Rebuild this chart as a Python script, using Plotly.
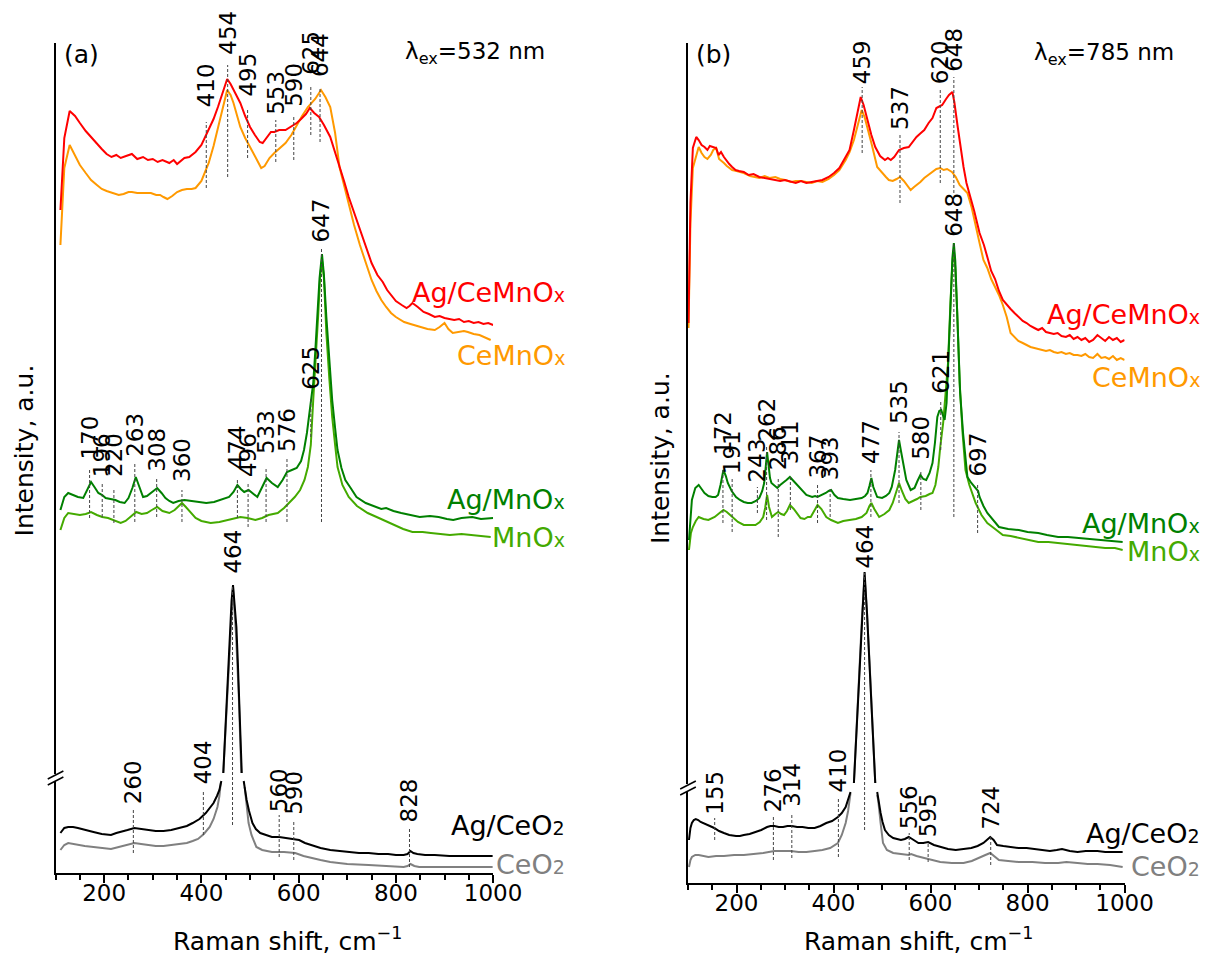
import plotly.graph_objects as go

W, H = 1232, 959
FONT = "DejaVu Sans, Verdana, sans-serif"

# ---------------- Panel (a): lambda_ex = 532 nm ----------------
a_agcemn_x = [110,118,129,140,150,162,173,185,195,205,215,225,234,245,257,268,280,290,300,310,320,334,343,350,358,365,375,388,400,415,425,434,444,453,460,467,480,490,500,510,520,526,535,543,550,560,573,585,596,605,615,623,632,642,652,665,675,684,694,703,714,726,738,750,762,773,782,790,800,812,822,828,834,845,857,868,880,890,900,910,920,930,940,950,960,970,980,990,1000]
a_agcemn_y = [663,735,762,757,750,742,736,729,724,719,716,718,715,717,719,714,716,713,714,711,713,710,713,709,712,715,716,721,728,743,754,766,780,794,789,782,770,757,746,738,731,730,736,741,741,743,743,747,750,754,759,765,760,756,748,736,721,706,691,676,660,643,626,610,598,591,583,578,572,568,565,567,570,566,561,559,556,557,555,554,553,554,551,552,550,551,549,550,548]

a_cemn_x = [110,118,129,140,150,162,173,185,195,205,219,230,240,250,257,268,280,296,307,315,322,330,340,350,360,370,380,388,400,415,425,434,444,453,460,466,480,490,500,512,523,530,540,550,560,573,585,596,607,619,627,634,646,655,665,675,684,694,703,714,726,738,750,760,770,780,790,800,817,830,850,865,880,890,900,908,917,930,940,948,960,972,985,995]
a_cemn_y = [628,705,728,718,708,700,693,688,684,682,680,678,679,681,681,680,680,680,678,678,676,674,677,681,683,684,684,685,692,710,727,746,766,783,778,770,746,735,726,715,705,707,715,720,724,730,738,748,757,766,770,774,783,776,766,740,706,686,668,648,628,610,593,582,573,566,560,556,551,549,546,544,543,546,550,544,540,541,542,541,539,538,535,533]

a_agmn_x = [110,118,126,135,146,157,165,173,180,188,196,203,213,223,232,242,250,258,265,272,280,288,296,302,309,318,326,334,342,353,365,380,396,410,426,440,457,466,474,481,488,497,506,515,524,534,545,557,567,576,586,596,605,611,617,622,626,630,634,638,643,648,652,657,663,669,675,680,688,696,707,719,738,757,770,780,795,811,830,849,870,888,905,918,935,957,975,990,1000]
a_agmn_y = [363,376,380,378,376,375,383,391,386,380,378,375,374,373,371,370,375,385,396,386,376,377,380,383,385,380,375,372,370,372,373,372,371,370,371,373,376,381,388,384,381,383,379,376,385,395,390,386,393,401,403,405,412,423,440,460,475,490,520,556,595,619,598,556,510,473,445,423,405,393,385,376,370,366,364,365,362,360,358,356,357,356,354,353,355,356,354,355,355]

a_mn_x = [110,118,126,138,150,162,173,185,196,208,219,227,234,244,253,260,266,277,288,298,309,320,334,345,353,360,368,378,388,400,419,437,457,470,480,495,511,525,538,557,570,580,592,603,612,619,625,630,635,640,644,648,652,657,663,669,675,680,690,703,720,742,765,795,815,834,855,872,890,911,935,957,975,995]
a_mn_y = [343,355,360,359,358,359,361,358,356,355,353,351,350,352,356,359,361,359,360,363,366,362,360,363,367,370,366,360,355,352,350,351,353,355,356,355,353,355,358,360,365,370,376,383,393,406,428,473,510,556,595,613,595,540,495,456,428,406,388,376,367,360,355,348,344,341,341,340,339,338,339,338,337,336]

a_agce_x = [110,118,126,136,146,160,178,195,214,225,234,248,262,276,290,306,322,338,354,370,382,396,409,418,425,432,437,441,None,445,449,453,456,459,462,465,468,472,475,477,480,483,None,487,490,493,498,505,512,521,533,545,560,577,590,601,613,625,645,665,685,704,724,744,764,784,800,816,824,830,836,844,860,880,910,943,970,999]
a_agce_y = [40,45,46,46,45,43,41,39,38,40,41,43,45,44,43,42,42,43,45,47,50,54,60,65,70,77,83,92,None,100,140,180,215,246,272,288,272,246,210,180,140,100,None,92,82,73,62,50,44,40,38,36,36,35,34,33,30,28,25,23,22,21,20,20,19,19,18,18,19,22,20,19,18,18,17,17,17,17]

a_ce_x = [110,118,126,136,146,160,178,195,214,230,248,262,276,290,306,322,338,354,370,382,393,405,417,425,433,437,440,None,445,453,459,465,471,477,482,None,489,493,497,503,513,525,545,570,593,610,625,645,665,700,744,780,816,824,830,838,848,880,920,960,999]
a_ce_y = [23,28,30,29,28,27,26,25,24,26,28,30,29,28,27,27,28,29,30,32,34,39,46,54,66,77,91,None,100,175,240,285,240,175,100,None,86,70,50,38,26,23,21,21,20,17,15,13,11,9,8,7,6,7,9,7,6,6,6,6,6]

# ---------------- Panel (b): lambda_ex = 785 nm ----------------
b_agcemn_x = [101,105,110,117,122,128,134,140,145,150,158,163,168,174,180,185,191,198,205,215,225,235,247,258,268,280,290,300,312,322,333,344,355,366,377,390,401,412,425,433,442,450,456,462,470,478,486,496,506,512,518,525,535,545,555,563,571,580,587,596,604,612,620,624,632,638,645,649,656,662,668,674,680,690,701,710,717,725,733,741,749,757,765,773,782,790,798,806,814,822,830,838,846,854,862,870,879,887,895,903,911,919,927,935,944,952,960,968,976,984,992,1000]
b_agcemn_y = [560,680,735,746,743,738,736,733,737,736,735,728,731,726,722,719,716,713,712,711,708,709,706,705,704,703,702,703,701,700,702,700,701,702,703,706,710,715,726,733,753,770,786,778,763,748,736,727,723,725,723,726,733,735,736,741,746,750,753,760,765,775,777,778,784,788,791,781,756,735,716,700,690,672,650,638,626,612,604,592,583,578,574,570,566,562,560,557,555,553,555,551,550,549,550,547,546,548,544,546,543,545,541,543,548,545,542,546,543,545,541,543]

b_cemn_x = [101,105,110,117,122,128,134,140,147,152,158,164,170,174,180,185,191,200,215,228,238,247,258,268,280,290,300,312,322,333,344,355,366,377,390,401,412,425,433,442,450,458,464,470,478,490,500,508,514,522,530,537,545,552,559,566,572,579,587,595,603,612,620,627,634,644,652,660,668,676,685,693,701,709,717,725,733,741,749,757,765,773,781,790,798,806,814,822,830,838,846,854,862,870,879,887,895,903,911,919,927,935,944,952,960,968,976,984,992,1000]
b_cemn_y = [555,660,715,728,736,730,726,724,728,733,735,724,722,720,717,715,713,712,710,707,706,705,707,705,706,704,703,701,702,702,701,700,702,701,704,708,713,723,731,743,758,773,766,756,740,716,710,706,703,702,704,706,702,698,693,696,698,701,705,708,711,714,715,713,714,711,706,698,694,690,675,656,640,623,615,604,596,588,578,566,550,546,542,540,538,536,535,534,533,532,533,531,530,531,529,530,528,528,527,529,526,525,529,525,526,524,527,523,525,523]

b_agmn_x = [102,105,108,115,122,128,134,142,150,157,162,167,173,178,182,190,199,207,215,223,231,240,247,253,257,260,263,266,269,272,278,284,290,296,303,310,318,328,336,344,356,362,367,372,377,384,390,395,402,409,420,434,446,458,465,470,474,478,482,490,500,508,515,520,527,531,535,539,543,550,559,567,573,579,585,591,598,604,609,614,618,622,626,629,633,637,641,645,648,651,656,661,667,672,676,684,693,698,701,709,717,729,741,760,782,800,822,840,863,883,903,925,944,970,996]
b_agmn_y = [343,370,383,395,398,394,390,387,386,386,388,398,413,407,400,392,386,383,381,380,380,382,385,392,400,415,431,418,405,400,397,395,398,400,403,406,402,396,392,388,386,387,386,387,388,390,392,393,388,385,384,383,384,385,387,390,397,405,396,386,385,387,390,396,413,430,443,432,420,403,393,395,402,408,404,403,410,420,440,466,472,473,467,463,480,520,575,625,640,622,560,490,450,425,406,400,395,392,386,377,370,363,356,354,353,351,350,348,346,346,345,344,343,342,341]

b_mn_x = [102,106,110,116,122,132,142,155,165,173,180,191,203,215,227,239,248,255,259,263,267,273,280,286,292,298,304,310,318,325,332,340,347,353,360,367,375,385,395,409,420,434,446,458,468,474,478,484,494,505,515,522,528,535,541,548,555,565,572,579,590,598,604,610,616,620,626,631,636,641,645,648,651,655,660,666,672,680,693,705,717,733,749,765,782,800,822,843,863,885,911,935,960,980,996]
b_mn_y = [333,350,356,362,366,364,363,366,370,373,371,366,361,358,358,358,361,366,375,388,376,366,369,371,369,368,372,378,374,369,365,364,366,366,372,378,374,366,363,360,362,363,364,366,370,377,380,374,366,369,373,380,390,400,392,384,380,382,384,386,387,389,390,398,416,436,460,490,520,580,620,633,615,570,500,450,413,398,380,368,360,354,348,347,345,343,341,341,340,339,338,337,335,335,333]

b_agce_x = [102,105,108,112,116,121,126,130,137,145,154,164,174,185,199,207,215,227,239,251,263,270,278,287,296,305,314,325,336,348,361,373,385,397,409,417,425,430,435,None,442,448,454,459,464,469,474,480,486,None,490,493,497,501,506,514,523,531,539,547,555,562,568,575,585,595,607,620,636,652,668,684,697,709,716,723,730,737,750,765,782,798,814,830,846,860,871,887,903,920,944,960,980,996]
b_agce_y = [43,55,60,63,64,63,61,60,59,57,55,52,50,48,47,47,48,49,51,53,56,57,57,56,56,57,57,56,56,55,55,57,60,62,66,70,76,83,91,None,100,160,223,270,311,270,223,160,100,None,91,80,70,61,53,48,45,44,43,44,46,44,42,40,40,41,38,36,34,33,34,35,37,40,43,46,43,38,37,36,35,35,34,33,32,33,34,32,31,32,32,31,31,31]

b_ce_x = [102,105,108,115,122,132,142,158,174,195,215,235,255,278,295,312,328,344,361,377,393,409,417,425,430,435,None,442,448,454,459,464,469,474,480,486,None,490,492,497,502,510,523,539,555,560,571,587,603,620,644,668,685,701,713,723,731,741,760,782,810,836,863,880,903,924,944,970,996]
b_ce_y = [16,23,26,28,28,27,26,27,27,28,28,29,30,32,32,32,31,31,32,33,35,40,48,60,72,90,None,100,160,223,270,305,270,223,160,100,None,88,83,60,40,33,30,29,28,29,27,25,23,21,20,20,22,25,28,30,27,23,22,21,21,20,20,21,20,19,19,18,16]

# peak labels: wavenumber, text-bottom intensity, dashed-line top, dashed-line bottom
peaks_a = [
    (410, 763, 751, 685), (454, 815, 808, 696), (495, 773, 763, 715), (553, 755, 753, 711),
    (590, 763, 756, 713), (625, 795, 788, 738), (644, 793, 785, 731),
    (170, 410, 405, 355), (196, 393, 390, 356), (220, 393, 385, 350), (263, 413, 410, 351),
    (308, 398, 395, 356), (360, 388, 383, 351), (474, 401, 393, 355), (496, 393, 390, 346),
    (533, 416, 405, 351), (576, 418, 415, 351), (625, 480, 476, 436), (647, 628, 626, 351),
    (464, 296, 286, 48),
    (260, 66, 65, 20), (404, 86, 83, 38), (560, 58, 58, 16), (590, 55, 51, 13), (828, 48, 46, 6),
]
peaks_b = [
    (459, 796, 796, 730), (537, 750, 750, 680), (620, 796, 793, 700), (648, 808, 806, 690),
    (172, 425, 413, 360), (191, 406, 406, 351), (243, 398, 396, 370), (262, 438, 436, 363),
    (286, 410, 406, 346), (311, 416, 406, 373), (367, 401, 400, 360), (393, 400, 396, 366),
    (477, 416, 413, 366), (535, 456, 451, 380), (580, 420, 413, 373), (621, 486, 483, 433),
    (648, 643, 640, 366), (697, 403, 400, 350),
    (464, 311, 310, 53),
    (155, 65, 65, 43), (276, 68, 66, 23), (314, 73, 70, 25), (410, 88, 86, 26),
    (556, 51, 50, 23), (595, 43, 41, 21), (724, 50, 48, 18),
]

C_RED, C_ORANGE = "#ff0000", "#ff9900"
C_DGREEN, C_LGREEN = "#008000", "#44aa00"
C_BLACK, C_GRAY = "#000000", "#808080"

# pixel geometry of the two plot areas
A_X0, A_X1, A_TOP, A_BOT = 56.9, 505.0, 43, 873
B_X0, B_X1, B_TOP, B_BOT = 704.6, 1151.7, 43, 883

def PX(x):
    return x / W

def PY(y):
    return 1 - y / H

fig = go.Figure()

series = [
    ("x", "y", a_cemn_x, a_cemn_y, C_ORANGE), ("x", "y", a_agcemn_x, a_agcemn_y, C_RED),
    ("x", "y", a_mn_x, a_mn_y, C_LGREEN), ("x", "y", a_agmn_x, a_agmn_y, C_DGREEN),
    ("x", "y", a_ce_x, a_ce_y, C_GRAY), ("x", "y", a_agce_x, a_agce_y, C_BLACK),
    ("x2", "y2", b_cemn_x, b_cemn_y, C_ORANGE), ("x2", "y2", b_agcemn_x, b_agcemn_y, C_RED),
    ("x2", "y2", b_mn_x, b_mn_y, C_LGREEN), ("x2", "y2", b_agmn_x, b_agmn_y, C_DGREEN),
    ("x2", "y2", b_ce_x, b_ce_y, C_GRAY), ("x2", "y2", b_agce_x, b_agce_y, C_BLACK),
]
for xa, ya, xs, ys, col in series:
    fig.add_trace(go.Scatter(x=xs, y=ys, xaxis=xa, yaxis=ya, mode="lines",
                             line=dict(color=col, width=2), connectgaps=False,
                             hoverinfo="skip", showlegend=False))

annotations = []
shapes = []

def add_peaks(peaks, xr, yr):
    for val, tb, d0, d1 in peaks:
        shapes.append(dict(type="line", xref=xr, yref=yr, x0=val, x1=val, y0=d1, y1=d0,
                           line=dict(color="#444444", width=1, dash="3px,2px")))
        annotations.append(dict(x=val, y=tb, xref=xr, yref=yr, text=str(val), textangle=-90,
                                showarrow=False, xanchor="center", yanchor="bottom", yshift=1,
                                font=dict(size=23, color="black", family=FONT)))

add_peaks(peaks_a, "x", "y")
add_peaks(peaks_b, "x2", "y2")

def small(s):
    return '<span style="font-size:19px">' + s + '</span>'

labels = [
    (581, 293, "Ag/CeMnO" + small("x"), C_RED), (581, 355, "CeMnO" + small("x"), C_ORANGE),
    (581, 499, "Ag/MnO" + small("x"), C_DGREEN), (581, 537, "MnO" + small("x"), C_LGREEN),
    (581, 825, "Ag/CeO" + small("2"), C_BLACK), (581, 864, "CeO" + small("2"), C_GRAY),
    (1231, 314, "Ag/CeMnO" + small("x"), C_RED), (1231, 377, "CeMnO" + small("x"), C_ORANGE),
    (1231, 523, "Ag/MnO" + small("x"), C_DGREEN), (1231, 551, "MnO" + small("x"), C_LGREEN),
    (1231, 833, "Ag/CeO" + small("2"), C_BLACK), (1231, 866, "CeO" + small("2"), C_GRAY),
]
for x, y, t, c in labels:
    annotations.append(dict(x=PX(x), y=PY(y), xref="paper", yref="paper", text=t, showarrow=False,
                            xanchor="right", yanchor="middle", font=dict(size=27, color=c, family=FONT)))

texts = [
    (63, 54, "(a)", "left", "middle", 0, 25), (413, 53, "λ<sub>ex</sub>=532 nm", "left", "middle", 0, 23),
    (711, 54, "(b)", "left", "middle", 0, 25), (1057, 54, "λ<sub>ex</sub>=785 nm", "left", "middle", 0, 23),
    (25, 450, "Intensity, a.u.", "center", "middle", -90, 25),
    (676, 458, "Intensity, a.u.", "center", "middle", -90, 25),
    (294, 958, "Raman shift, cm<sup>−1</sup>", "center", "bottom", 0, 25),
    (941, 958, "Raman shift, cm<sup>−1</sup>", "center", "bottom", 0, 25),
]
for x, y, t, xa, ya, ang, fs in texts:
    annotations.append(dict(x=PX(x), y=PY(y), xref="paper", yref="paper", text=t, showarrow=False,
                            xanchor=xa, yanchor=ya, textangle=ang,
                            font=dict(size=fs, color="black", family=FONT)))

# axis-break marks
for ax_x, by in ((A_X0, 778), (B_X0, 788)):
    shapes.append(dict(type="line", xref="paper", yref="paper", x0=PX(ax_x), x1=PX(ax_x),
                       y0=PY(by - 4), y1=PY(by + 3), line=dict(color="white", width=4)))
    for off in (-3, 3):
        shapes.append(dict(type="line", xref="paper", yref="paper",
                           x0=PX(ax_x - 8), y0=PY(by + off + 4), x1=PX(ax_x + 8), y1=PY(by + off - 4),
                           line=dict(color="black", width=1.5)))

xcommon = dict(range=[100, 1000], showline=True, linecolor="black", linewidth=2, ticks="outside",
               ticklen=8, tickwidth=1.5, tickcolor="black", dtick=200, tick0=0, ticklabelstandoff=-10,
               minor=dict(dtick=50, tick0=0, ticklen=5, ticks="outside", tickwidth=1.5, tickcolor="black"),
               showgrid=False, zeroline=False, tickfont=dict(size=23, color="black", family=FONT),
               fixedrange=True)
ycommon = dict(showline=True, linecolor="black", linewidth=2, ticks="", showticklabels=False,
               showgrid=False, zeroline=False, fixedrange=True)

fig.update_layout(
    width=W, height=H, paper_bgcolor="white", plot_bgcolor="white",
    margin=dict(l=0, r=0, t=0, b=0), showlegend=False,
    font=dict(family=FONT, color="black"),
    xaxis=dict(domain=[PX(A_X0), PX(A_X1)], anchor="y", **xcommon),
    yaxis=dict(domain=[PY(A_BOT), PY(A_TOP)], anchor="x", range=[0, A_BOT - A_TOP], **ycommon),
    xaxis2=dict(domain=[PX(B_X0), PX(B_X1)], anchor="y2", **xcommon),
    yaxis2=dict(domain=[PY(B_BOT), PY(B_TOP)], anchor="x2", range=[0, B_BOT - B_TOP], **ycommon),
    annotations=annotations, shapes=shapes,
)

fig.write_html("out.html", config={"displayModeBar": False},
               post_script="document.body.style.margin='0px';document.body.style.overflow='hidden';")
